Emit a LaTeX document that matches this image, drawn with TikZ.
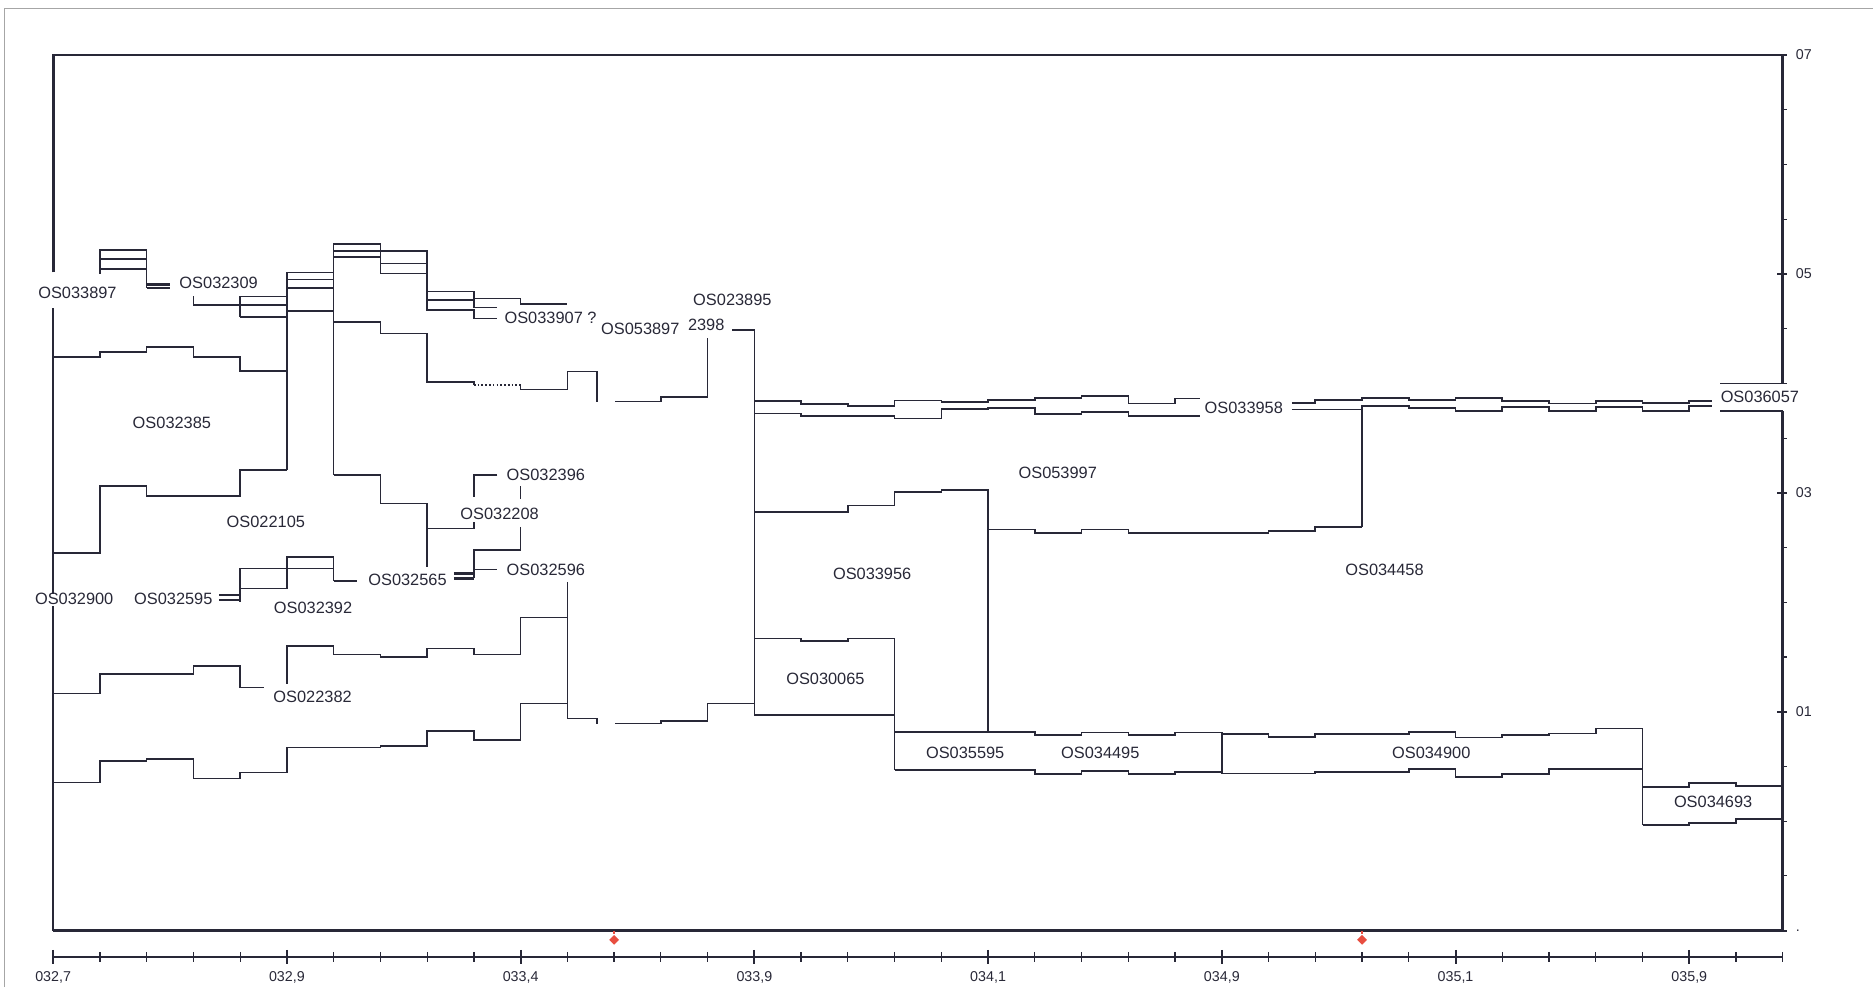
\documentclass[tikz,border=0pt]{standalone}
\usepackage{fontspec}
\setmainfont{Liberation Sans}
\usepackage{tikz}
\usetikzlibrary{shapes.geometric}
\definecolor{ink}{RGB}{40,40,55}
\definecolor{markred}{RGB}{232,78,64}
\tikzstyle{border} = [line width=0.5pt, gray!70]
\tikzstyle{frame} = [line width=1.4pt, ink]
\tikzstyle{stem} = [line width=1pt, ink]
\tikzstyle{band} = [line width=0.8pt, ink]
\tikzstyle{pair} = [line width=1.2pt, ink]
\tikzstyle{axis} = [line width=0.9pt, ink]
\tikzstyle{tag} = [inner sep=0.5pt, text=ink, font=\fontsize{7.8}{8}\selectfont]
\tikzstyle{ticklabel} = [inner sep=0.5pt, text=ink, font=\fontsize{6.8}{7}\selectfont]
\tikzstyle{marker} = [diamond, fill=markred, inner sep=0pt, minimum size=0.17cm]

\begin{document}
\begin{tikzpicture}[x=0.7826cm, y=-0.02cm]
\useasboundingbox (-1.137,0) rectangle (38.93,826);

\draw [border] (-1.05,826) -- (-1.05,7.5) -- (38.93,7.5);

% frame of the chart
\draw [frame] (0,228) -- (0,46) -- (37,46) -- (37,321);
\draw [frame] (37,344) -- (37,779) -- (0,779);
\draw [stem] (0,779) -- (0,507);
\draw [stem] (0,497) -- (0,258);

% right scale
\foreach \k in {0,...,16}
  \draw [axis, line width=0.5pt] (37,{46+45.8*\k}) -- (37.08,{46+45.8*\k});
\foreach \k/\t in {0/07,4/05,8/03,12/01,16/.} {
  \draw [axis] (36.88,{46+45.8*\k}) -- (37.1,{46+45.8*\k});
  \node (ry\k) [ticklabel, anchor=west] at (37.25,{46+45.8*\k}) {\t};
}

% bottom scale
\draw [axis] (0,801) -- (37,801);
\foreach \i in {0,...,37}
  \draw [axis, line width=0.6pt] (\i,797) -- (\i,805);
\foreach \i/\t in {0/{032,7},5/{032,9},10/{033,4},15/{033,9},20/{034,1},25/{034,9},30/{035,1},35/{035,9}} {
  \draw [axis] (\i,795) -- (\i,807);
  \node (rx\i) [ticklabel] at (\i,818) {\t};
}

% markers
\node (mk1) [marker] at (12,786.5) {};
\node (mk2) [marker] at (28,786.5) {};
\draw [markred, line width=0.8pt] (12,779) -- (mk1);
\draw [markred, line width=0.8pt] (28,779) -- (mk2);

% upper left bands
\draw [band] (1,229) -- (1,209) -- (2,209) -- (2,241);
\draw [band] (1,217) -- (2,217);
\draw [band] (1,225) -- (2,225);
\draw [pair] (2,238) -- (2.5,238);
\draw [pair] (2,241) -- (2.5,241);
\draw [band] (3,248) -- (3,255);
\draw [band] (4,248) -- (4,265);
\draw [band] (4,248) -- (5,248) -- (5,228) -- (6,228) -- (6,204) -- (7,204) -- (7,210) -- (8,210) -- (8,244) -- (9,244) -- (9,249.8) -- (10,249.8) -- (10,254.5) -- (11,254.5);
\draw [band] (3,255) -- (5,255) -- (5,234) -- (6,234) -- (6,210) -- (7,210) -- (7,220.5) -- (8,220.5) -- (8,251) -- (9,251) -- (9,257.3) -- (9.5,257.3);
\draw [band] (4,265) -- (5,265) -- (5,241) -- (6,241) -- (6,215) -- (7,215) -- (7,229) -- (8,229) -- (8,259.5) -- (9,259.5) -- (9,266.5) -- (9.5,266.5);
\draw [band] (5,228) -- (5,393.5);
\draw [band] (6,204) -- (6,397.6);
\draw [band] (5,260) -- (6,260);
\draw [band] (6,269.3) -- (7,269.3) -- (7,279) -- (8,279) -- (8,319.5) -- (9,319.5) -- (9,322);
\draw [band, densely dotted] (9,322) -- (10,322);
\draw [band] (10,322) -- (10,326) -- (11,326) -- (11,311) -- (11.64,311) -- (11.64,336);
\draw [band] (12.02,336) -- (13,336) -- (13,332) -- (14,332) -- (14,283);
\draw [band] (14.53,276) -- (15,276) -- (15,598.5);

% left blocks
\draw [band] (0,298.6) -- (1,298.6) -- (1,294.4) -- (2,294.4) -- (2,290.2) -- (3,290.2) -- (3,298.6) -- (4,298.6) -- (4,310.6) -- (5,310.6);
\draw [band] (0,462.6) -- (1,462.6) -- (1,406.6) -- (2,406.6) -- (2,415) -- (4,415) -- (4,393.5) -- (5,393.5);
\draw [band] (6,397.6) -- (7,397.6) -- (7,421.4) -- (8,421.4) -- (8,474.4);
\draw [band] (8,442.3) -- (9,442.3) -- (9,437);
\draw [band] (9.5,397.6) -- (9,397.6) -- (9,416);
\draw [band] (10,407) -- (10,418);
\draw [band] (10,441) -- (10,460) -- (9,460) -- (9,484);
\draw [band] (9,476.6) -- (9.5,476.6);
\draw [pair] (8.57,480) -- (9,480);
\draw [pair] (8.57,484) -- (9,484);
\draw [band] (4,503.7) -- (4,475.8) -- (6,475.8);
\draw [band] (4,492.5) -- (5,492.5) -- (5,466) -- (6,466) -- (6,486.4);
\draw [pair] (6,486.4) -- (6.5,486.4);
\draw [pair] (3.55,498) -- (4,498);
\draw [pair] (3.55,502) -- (4,502);
\draw [band] (0,580.4) -- (1,580.4) -- (1,564.2) -- (3,564.2) -- (3,557.5) -- (4,557.5) -- (4,575.4) -- (4.5,575.4);
\draw [band] (5,572) -- (5,540.8) -- (6,540.8) -- (6,547.7) -- (7,547.7) -- (7,549.7) -- (8,549.7) -- (8,542.7) -- (9,542.7) -- (9,547.7) -- (10,547.7) -- (10,516.8) -- (11,516.8);
\draw [band] (0,654.9) -- (1,654.9) -- (1,636.7) -- (2,636.7) -- (2,635.3) -- (3,635.3) -- (3,651.5) -- (4,651.5) -- (4,646.5) -- (5,646.5) -- (5,625.6) -- (7,625.6) -- (7,624.2) -- (8,624.2) -- (8,611.9) -- (9,611.9) -- (9,619.4) -- (10,619.4) -- (10,588.8) -- (11,588.8);
\draw [band] (11,487) -- (11,601.3) -- (11.64,601.3) -- (11.64,605.5);
\draw [band] (12.02,605.5) -- (13,605.5) -- (13,603.5) -- (14,603.5) -- (14,588.8) -- (15,588.8);

% right bands
\draw [band] (15,335.7) -- (16,335.7) -- (16,338.2) -- (17,338.2) -- (17,340) -- (18,340) -- (18,335.1) -- (19,335.1) -- (19,336.5) -- (20,336.5) -- (20,335) -- (21,335) -- (21,333) -- (22,333) -- (22,331.5) -- (23,331.5) -- (23,337.8) -- (24,337.8) -- (24,333.4) -- (24.53,333.4);
\draw [band] (15,346) -- (16,346) -- (16,348.3) -- (18,348.3) -- (18,350.2) -- (19,350.2) -- (19,342.5) -- (20,342.5) -- (20,341.5) -- (21,341.5) -- (21,346.5) -- (22,346.5) -- (22,344.6) -- (23,344.6) -- (23,348) -- (24.53,348);
\draw [band] (26.5,337) -- (27,337) -- (27,334.8) -- (28,334.8) -- (28,332.9) -- (29,332.9) -- (29,334.8) -- (30,334.8) -- (30,332.9) -- (31,332.9) -- (31,335.7) -- (32,335.7) -- (32,337.6) -- (33,337.6) -- (33,335.7) -- (34,335.7) -- (34,337) -- (35,337) -- (35,335.7) -- (35.48,335.7);
\draw [band] (26.5,342.6) -- (28,342.6);
\draw [band] (28,440.8) -- (28,339.8) -- (29,339.8) -- (29,341.2) -- (30,341.2) -- (30,344) -- (31,344) -- (31,340.4) -- (32,340.4) -- (32,344) -- (33,344) -- (33,340.4) -- (34,340.4) -- (34,344) -- (35,344) -- (35,339.8) -- (35.48,339.8);
\draw [band] (35.66,321) -- (37,321);
\draw [band] (35.66,344) -- (37,344);
\draw [band] (15,428.3) -- (17,428.3) -- (17,423) -- (18,423) -- (18,411.6) -- (19,411.6) -- (19,410.2) -- (20,410.2) -- (20,612.5);
\draw [band] (20,443) -- (21,443) -- (21,446) -- (22,446) -- (22,443) -- (23,443) -- (23,446) -- (26,446) -- (26,444.2) -- (27,444.2) -- (27,440.8) -- (28,440.8);
\draw [band] (15,534.3) -- (16,534.3) -- (16,536.3) -- (17,536.3) -- (17,534.3) -- (18,534.3) -- (18,644.6);
\draw [band] (15,598.5) -- (18,598.5);
\draw [band] (18,612.5) -- (21,612.5) -- (21,615.3) -- (22,615.3) -- (22,613) -- (23,613) -- (23,615.3) -- (24,615.3) -- (24,613) -- (25,613) -- (25,614.5) -- (26,614.5) -- (26,616.7) -- (27,616.7) -- (27,614.5) -- (29,614.5) -- (29,612.5) -- (30,612.5) -- (30,617.3) -- (31,617.3) -- (31,615.3) -- (32,615.3) -- (32,613.9) -- (33,613.9) -- (33,609.7) -- (34,609.7) -- (34,690.6);
\draw [band] (18,644.6) -- (21,644.6) -- (21,648) -- (22,648) -- (22,645.2) -- (23,645.2) -- (23,648) -- (24,648) -- (24,646) -- (25,646) -- (25,647.4) -- (27,647.4) -- (27,646) -- (29,646) -- (29,643.8) -- (30,643.8) -- (30,650.2) -- (31,650.2) -- (31,648) -- (32,648) -- (32,643.8) -- (34,643.8);
\draw [band] (25,613) -- (25,647.4);
\draw [band] (34,658.5) -- (35,658.5) -- (35,655.2) -- (36,655.2) -- (36,658) -- (37,658);
\draw [band] (34,690.6) -- (35,690.6) -- (35,688.7) -- (36,688.7) -- (36,685.6) -- (37,685.6);

% names
\node (n33897) [tag] at (0.52,245) {OS033897};
\node (n32309) [tag] at (3.54,237) {OS032309};
\node (n33907) [tag] at (10.64,266) {OS033907 ?};
\node (n53897) [tag] at (12.56,275) {OS053897};
\node (n2398) [tag] at (13.97,272) {2398};
\node (n23895) [tag] at (14.53,251) {OS023895};
\node (n32385) [tag] at (2.54,353.6) {OS032385};
\node (n22105) [tag] at (4.55,436.7) {OS022105};
\node (n32396) [tag] at (10.54,397.6) {OS032396};
\node (n32208) [tag] at (9.55,429.7) {OS032208};
\node (n32596) [tag] at (10.54,476.6) {OS032596};
\node (n32565) [tag] at (7.58,485.5) {OS032565};
\node (n32900) [tag] at (0.45,501) {OS032900};
\node (n32595) [tag] at (2.57,501) {OS032595};
\node (n32392) [tag] at (5.56,509) {OS032392};
\node (n22382) [tag] at (5.55,583) {OS022382};
\node (n33958) [tag] at (25.47,341) {OS033958};
\node (n36057) [tag] at (36.51,332) {OS036057};
\node (n53997) [tag] at (21.49,396) {OS053997};
\node (n34458) [tag] at (28.48,477) {OS034458};
\node (n33956) [tag] at (17.52,480) {OS033956};
\node (n30065) [tag] at (16.52,568) {OS030065};
\node (n35595) [tag] at (19.51,630) {OS035595};
\node (n34495) [tag] at (22.4,630) {OS034495};
\node (n34900) [tag] at (29.48,630) {OS034900};
\node (n34693) [tag] at (35.51,671) {OS034693};
\end{tikzpicture}
\end{document}
